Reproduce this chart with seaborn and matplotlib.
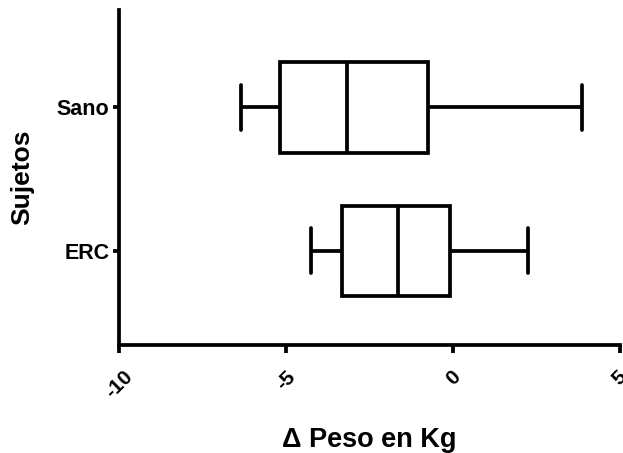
import matplotlib
matplotlib.use("Agg")
import matplotlib.pyplot as plt
import matplotlib.transforms as mtransforms
import seaborn as sns
import pandas as pd

# Five-number summaries (min, Q1, median, Q3, max) of weight change per group
groups = ["Sano", "ERC"]
sano_vals = [-6.36, -5.19, -3.16, -0.75, 3.86]
erc_vals = [-4.26, -3.31, -1.65, -0.10, 2.25]
xticks = [-10, -5, 0, 5]

df = pd.DataFrame({
    "grupo": ["Sano"] * len(sano_vals) + ["ERC"] * len(erc_vals),
    "delta": sano_vals + erc_vals,
})

sns.set_style("ticks")
plt.rcParams["font.family"] = ["Liberation Sans", "DejaVu Sans"]
plt.rcParams["font.weight"] = "bold"
plt.rcParams["text.color"] = "black"
plt.rcParams["axes.labelcolor"] = "black"

fig = plt.figure(figsize=(6.23, 4.53), dpi=100)
ax = fig.add_axes([0.191, 0.238, 0.804, 0.740])

lw = 2.7
sns.boxplot(
    data=df, x="delta", y="grupo", order=groups, orient="h",
    whis=(0, 100), width=0.63, color="white", linecolor="black",
    linewidth=lw, fill=True, ax=ax,
)

ax.set_xlim(-10, 5)
ax.set_ylim(1.66, -0.68)
ax.set_xticks(xticks)
ax.set_xticklabels([str(t) for t in xticks], rotation=45, ha="center",
                   fontsize=15, fontweight="bold")
shift = mtransforms.ScaledTranslation(-4 / 100, 0, fig.dpi_scale_trans)
for lab in ax.get_xticklabels():
    lab.set_transform(lab.get_transform() + shift)
ax.set_yticks(range(len(groups)))
ax.set_yticklabels(groups, fontsize=15.5, fontweight="bold")
ax.set_xlabel("Δ Peso en Kg", fontsize=19.5, fontweight="bold", labelpad=18)
ax.set_ylabel("Sujetos", fontsize=19, fontweight="bold", labelpad=16)

for side in ["top", "right"]:
    ax.spines[side].set_visible(False)
for side in ["left", "bottom"]:
    ax.spines[side].set_linewidth(lw)
    ax.spines[side].set_color("black")
ax.tick_params(axis="x", length=6, width=lw, colors="black", pad=10)
ax.tick_params(axis="y", length=4, width=lw, colors="black", pad=3)

fig.savefig("out.png", dpi=100, facecolor="white")
